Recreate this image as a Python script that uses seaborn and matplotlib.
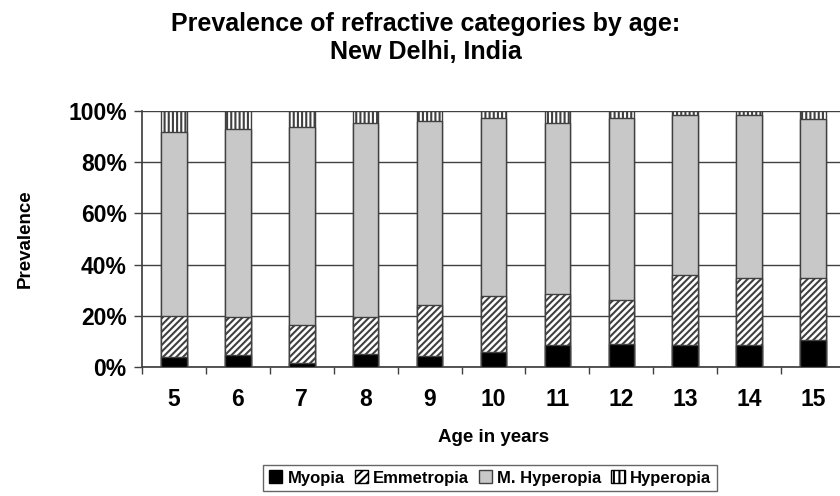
import numpy as np
import pandas as pd
import matplotlib
matplotlib.use("Agg")
import matplotlib.pyplot as plt
from matplotlib.patches import Patch
import seaborn as sns

# Prevalence (%) of each refractive category per age group
ages = ["5", "6", "7", "8", "9", "10", "11", "12", "13", "14", "15"]
myopia = [4.2, 4.7, 1.6, 5.2, 4.4, 5.8, 8.7, 9.1, 8.8, 8.6, 10.8]
emmetropia = [15.8, 15.0, 14.8, 14.3, 19.9, 22.0, 20.0, 17.1, 27.0, 26.1, 23.9]
m_hyperopia = [71.7, 73.3, 77.4, 75.8, 71.7, 69.5, 66.6, 71.1, 62.5, 63.6, 61.9]
hyperopia = [8.3, 7.0, 6.2, 4.7, 4.0, 2.7, 4.7, 2.7, 1.7, 1.7, 3.4]

categories = ["Myopia", "Emmetropia", "M. Hyperopia", "Hyperopia"]
title_text = "Prevalence of refractive categories by age:\nNew Delhi, India"
ytick_labels = ["0%", "20%", "40%", "60%", "80%", "100%"]

sns.set_theme(style="white")
plt.rcParams["font.family"] = ["Liberation Sans", "DejaVu Sans"]
plt.rcParams["text.color"] = "black"
plt.rcParams["axes.labelcolor"] = "black"
plt.rcParams["xtick.color"] = "black"
plt.rcParams["ytick.color"] = "black"
plt.rcParams["hatch.color"] = "black"
plt.rcParams["hatch.linewidth"] = 1.5

df = pd.DataFrame({
    "age": ages,
    "Myopia": myopia,
    "Emmetropia": emmetropia,
    "M. Hyperopia": m_hyperopia,
    "Hyperopia": hyperopia,
})
# cumulative tops for layered drawing
df["c1"] = df["Myopia"]
df["c2"] = df["c1"] + df["Emmetropia"]
df["c3"] = df["c2"] + df["M. Hyperopia"]
df["c4"] = df["c3"] + df["Hyperopia"]

fig = plt.figure(figsize=(8.4, 4.96), dpi=100)
ax = fig.add_axes([142 / 840, 1 - 367.3 / 496, (845 - 142) / 840, (367.3 - 110.7) / 496])

edge = "#404040"
layers = [
    ("c4", "white", "||||"),
    ("c3", "#c8c8c8", None),
    ("c2", "white", "/////"),
    ("c1", "black", None),
]
for col, face, hatch in layers:
    sns.barplot(data=df, x="age", y=col, ax=ax, color=face, width=0.4,
                edgecolor=edge, linewidth=1.0, saturation=1, hatch=hatch,
                errorbar=None, zorder=3)

ax.set_ylim(0, 100)
ax.set_xlim(-0.5, len(ages) - 0.5)
ax.set_yticks(np.arange(0, 101, 20))
ax.set_yticklabels(ytick_labels, fontsize=16.5, fontweight="bold")
ax.set_xticks(range(len(ages)))
ax.set_xticklabels(ages, fontsize=16.5, fontweight="bold")
ax.set_xticks(np.arange(-0.5, len(ages), 1), minor=True)
ax.tick_params(axis="x", which="major", length=0, pad=15)
ax.tick_params(axis="x", which="minor", length=5, width=1, color=edge, direction="out")
ax.tick_params(axis="y", length=6, width=1, color=edge, direction="out", pad=5)
ax.yaxis.set_ticks_position("left")
ax.xaxis.set_ticks_position("bottom")

ax.grid(axis="y", color="#404040", linewidth=1.0, zorder=0)
ax.set_axisbelow(True)
for side in ["top", "right"]:
    ax.spines[side].set_visible(False)
ax.spines["left"].set_color(edge)
ax.spines["bottom"].set_color(edge)

ax.set_xlabel("Age in years", fontsize=13.5, fontweight="bold", labelpad=13)
ax.set_ylabel("Prevalence", fontsize=13.5, fontweight="bold", labelpad=25)

fig.suptitle(title_text, fontsize=18, fontweight="bold", x=426 / 840, y=0.975, linespacing=1.2)

handles = [
    Patch(facecolor="black", edgecolor="black"),
    Patch(facecolor="white", edgecolor="black", hatch="////"),
    Patch(facecolor="#c8c8c8", edgecolor="#404040"),
    Patch(facecolor="white", edgecolor="black", hatch="|||"),
]
leg = fig.legend(handles, categories, loc="center", bbox_to_anchor=(490 / 840, 1 - 478 / 496),
                 ncol=4, frameon=True, fancybox=False, handlelength=0.8, handleheight=0.8,
                 handletextpad=0.3, columnspacing=0.6, borderpad=0.35,
                 prop={"size": 12, "weight": "bold"})
leg.get_frame().set_edgecolor("#404040")
leg.get_frame().set_linewidth(1.0)

fig.savefig("out.png", dpi=100)
